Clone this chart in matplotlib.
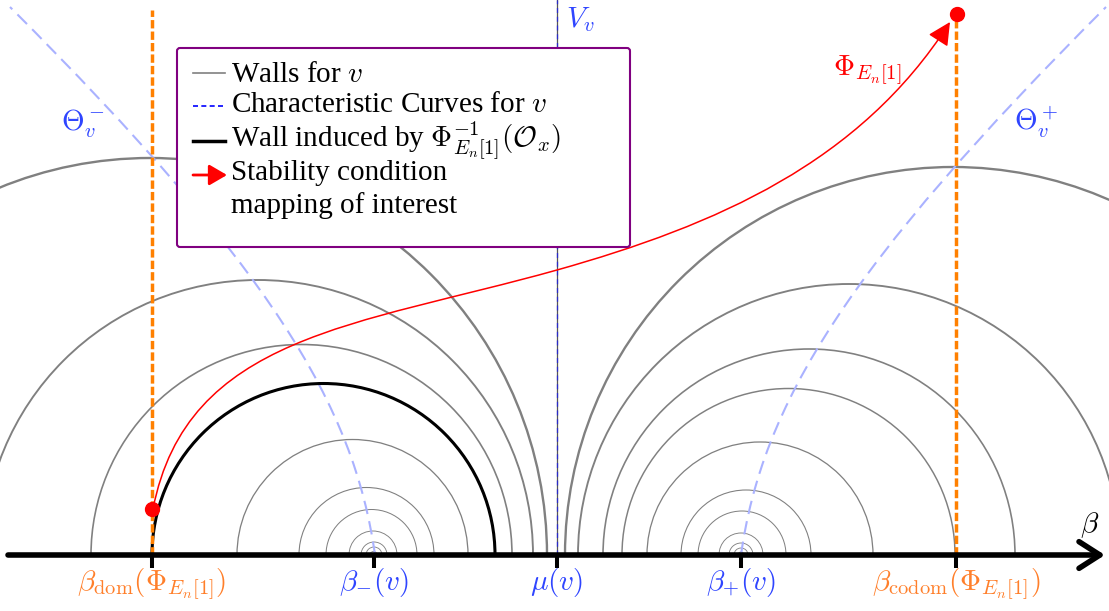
import matplotlib
matplotlib.use('Agg')
import matplotlib.pyplot as plt
from matplotlib.patches import Arc, FancyBboxPatch, FancyArrowPatch, PathPatch
from matplotlib.path import Path

plt.rcParams['font.family'] = 'serif'
plt.rcParams['font.serif'] = ['Liberation Serif', 'DejaVu Serif']
plt.rcParams['mathtext.fontset'] = 'cm'

# ---- data (beta axis, mu(v) at 0) ----
tick_pos = [-4.05, -1.83, 0.0, 1.84, 3.99]
tick_labels = [r'$\beta_{\mathrm{dom}}(\Phi_{E_n[1]})$', r'$\beta_{-}(v)$', r'$\mu(v)$',
               r'$\beta_{+}(v)$', r'$\beta_{\mathrm{codom}}(\Phi_{E_n[1]})$']

# walls for v left of the vertical wall (centre, radius)
left_centers = [-1.835, -1.83, -1.83, -1.84, -1.855, -1.905, -2.045, -2.555, -2.99, -4.07]
left_radii = [0.035, 0.08, 0.13, 0.24, 0.455, 0.675, 1.155, 2.105, 2.75, 3.97]
# walls for v right of the vertical wall
right_centers = [1.84, 1.84, 1.84, 1.84, 1.85, 1.89, 2.03, 2.315, 2.52, 2.92, 3.96]
right_radii = [0.03, 0.07, 0.12, 0.22, 0.44, 0.65, 1.13, 1.665, 2.06, 2.71, 3.88]

# wall induced by Phi^{-1}(O_x)
induced_center = -2.335
induced_radius = 1.715

# characteristic curves (cubic bezier control points)
theta_minus_x = [-1.82, -2.03, -2.87, -5.47]
theta_minus_y = [0.0, 1.5, 2.88, 5.48]
theta_plus_x = [1.84, 2.05, 2.89, 5.49]
theta_plus_y = [0.0, 1.5, 2.88, 5.48]

# stability condition mapping (two cubic bezier pieces)
phi_x = [-4.04, -3.70, -2.00, 0.00, 1.60, 3.03, 3.93]
phi_y = [0.46, 2.20, 2.29, 2.85, 3.30, 3.926, 5.33]
phi_start = (-4.05, 0.46)
phi_end = (4.00, 5.41)

ORANGE = '#ff8000'
ORANGE_TXT = '#ff7f2a'
BLUE_TXT = '#2f45ff'
LIGHTBLUE = '#aab2ff'
GRAY = '#808080'
PURPLE = '#800080'
FS = 21


def bezier(xs, ys):
    codes = [Path.MOVETO] + [Path.CURVE4] * (len(xs) - 1)
    return Path(list(zip(xs, ys)), codes)


fig = plt.figure(figsize=(11.09, 6.11), dpi=100)
ax = fig.add_axes([0, 0, 1, 1])
ax.set_xlim(-5.57, 5.52)
ax.set_ylim(-0.56, 5.55)
ax.set_aspect('equal')
ax.axis('off')

# walls
for c, r in zip(left_centers + right_centers, left_radii + right_radii):
    ax.add_patch(Arc((c, 0), 2 * r, 2 * r, theta1=0, theta2=180,
                     color=GRAY, lw=0.6 + 0.28 * r, zorder=1))
ax.plot([0, 0], [0, 5.55], color='#555555', lw=0.9, zorder=1)

# characteristic curves
for xs, ys in [(theta_minus_x, theta_minus_y), (theta_plus_x, theta_plus_y)]:
    ax.add_patch(PathPatch(bezier(xs, ys), fill=False, edgecolor=LIGHTBLUE, lw=1.5,
                           ls=(0, (6.5, 3.5)), zorder=2))
ax.plot([0, 0], [0, 5.55], color='#2a2acc', lw=0.9, dashes=(4, 3), zorder=2)

# induced wall
ax.add_patch(Arc((induced_center, 0), 2 * induced_radius, 2 * induced_radius,
                 theta1=0, theta2=180, color='black', lw=2.2, zorder=3))

# domain / codomain lines
ax.plot([tick_pos[0]] * 2, [0, 5.45], color=ORANGE, lw=2.5, dashes=(2.4, 0.9), zorder=4)
ax.plot([tick_pos[4]] * 2, [0, phi_end[1]], color=ORANGE, lw=2.5, dashes=(2.4, 0.9), zorder=4)

# stability condition arrow
arr = FancyArrowPatch(path=bezier(phi_x, phi_y), arrowstyle='-|>,head_length=0.7,head_width=0.35',
                      mutation_scale=20, color='red', lw=1.1, shrinkA=0, shrinkB=0, zorder=5)
ax.add_patch(arr)
ax.plot(*phi_start, 'o', color='red', ms=10, zorder=6)
ax.plot(*phi_end, 'o', color='red', ms=10, zorder=6)

# beta axis
ax.annotate('', xy=(5.48, 0), xytext=(-5.49, 0),
            arrowprops=dict(arrowstyle='->,head_length=0.5,head_width=0.32', lw=4,
                            color='black', mutation_scale=30, shrinkA=0, shrinkB=0), zorder=7)
for x, lab in zip(tick_pos, tick_labels):
    ax.plot([x, x], [0, -0.13], color='black', lw=2.9, solid_capstyle='butt', zorder=7)
    col = ORANGE_TXT if 'dom' in lab else BLUE_TXT
    ax.text(x, -0.11, lab, color=col, fontsize=FS, ha='center', va='top')
ax.text(5.33, 0.30, r'$\beta$', fontsize=FS, ha='center', va='center')

# curve labels
ax.text(-4.74, 4.31, r'$\Theta_v^-$', color=BLUE_TXT, fontsize=FS, ha='center', va='center')
ax.text(4.79, 4.33, r'$\Theta_v^+$', color=BLUE_TXT, fontsize=FS, ha='center', va='center')
ax.text(0.23, 5.35, r'$V_v$', color=BLUE_TXT, fontsize=FS, ha='center', va='center')
ax.text(3.10, 4.85, r'$\Phi_{E_n[1]}$', color='red', fontsize=FS, ha='center', va='center')

# legend box
ax.add_patch(FancyBboxPatch((-3.80, 3.08), 4.53, 1.99, boxstyle='round,pad=0,rounding_size=0.03',
                            facecolor='white', edgecolor=PURPLE, lw=1.5, zorder=10))
lx0, lx1, tx = -3.64, -3.32, -3.26
ax.plot([lx0, lx1], [4.82, 4.82], color=GRAY, lw=1.2, zorder=11)
ax.plot([lx0, lx1], [4.49, 4.49], color='blue', lw=1.2, dashes=(3, 2), zorder=11)
ax.plot([lx0, lx1], [4.14, 4.14], color='black', lw=2.5, zorder=11)
ax.annotate('', xy=(lx1 + 0.02, 3.80), xytext=(lx0, 3.80),
            arrowprops=dict(arrowstyle='-|>,head_length=0.6,head_width=0.35', lw=2,
                            color='red', mutation_scale=18, shrinkA=0, shrinkB=0), zorder=11)
legend_rows = [('Walls for $v$', 4.73), ('Characteristic Curves for $v$', 4.43),
               (r'Wall induced by $\Phi^{-1}_{E_n[1]}(\mathcal{O}_x)$', 4.08),
               ('Stability condition', 3.75), ('mapping of interest', 3.42)]
for txt, yb in legend_rows:
    ax.text(tx, yb, txt, fontsize=FS, ha='left', va='baseline', zorder=12)

fig.savefig('out.png', dpi=100)
